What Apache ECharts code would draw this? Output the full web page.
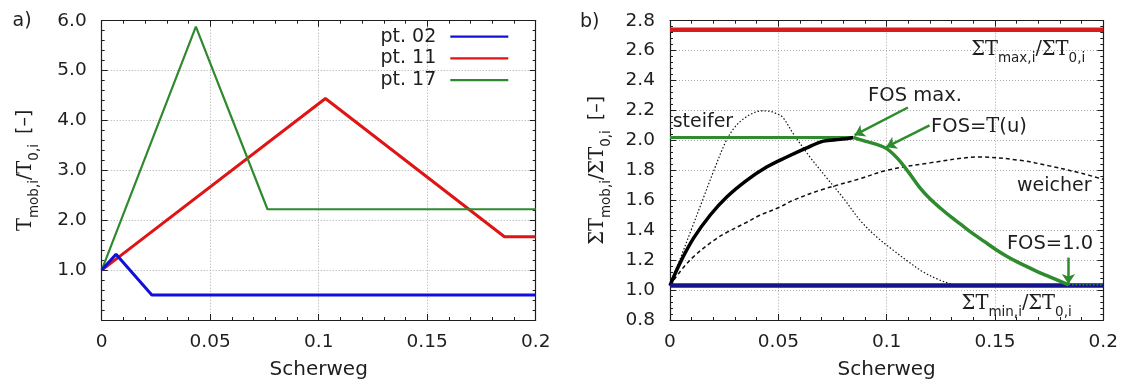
<!DOCTYPE html>
<html><head><meta charset="utf-8">
<script src="https://cdn.jsdelivr.net/npm/echarts@6/dist/echarts.min.js"></script>
<style>html,body{margin:0;padding:0;background:#fff}#c{width:1125px;height:388px}</style>
</head><body><div id="c"></div>
<script>
// ---------- data (left panel a) ----------
const pt02X = [0, 0.0066, 0.0231, 0.2];
const pt02Y = [1.0, 1.32, 0.5, 0.5];
const pt11X = [0, 0.1031, 0.1856, 0.2];
const pt11Y = [1.0, 4.44, 1.67, 1.67];
const pt17X = [0, 0.0434, 0.0764, 0.2];
const pt17Y = [1.0, 5.88, 2.22, 2.22];
const legendNames = ['pt. 02', 'pt. 11', 'pt. 17'];

// ---------- data (right panel b) ----------
const maxRatio = 2.74;
const minRatio = 1.03;
const fosMaxLevel = 2.02;
const fosMaxX = 0.0846;
const mobX = [0, 0.0046, 0.0108, 0.0185, 0.0262, 0.0354, 0.0446, 0.0539, 0.0631, 0.0708, 0.0785, 0.0846];
const mobY = [1.03, 1.18, 1.345, 1.50, 1.622, 1.733, 1.822, 1.889, 1.950, 1.995, 2.007, 2.02];
const fosX = [0.0846, 0.09, 0.095, 0.1, 0.105, 0.11, 0.115, 0.12, 0.125, 0.13, 0.135, 0.14, 0.145, 0.15, 0.155, 0.16, 0.165, 0.17, 0.175, 0.18, 0.184];
const fosY = [2.02, 1.995, 1.975, 1.945, 1.88, 1.79, 1.69, 1.61, 1.545, 1.485, 1.43, 1.375, 1.325, 1.275, 1.23, 1.19, 1.155, 1.12, 1.09, 1.06, 1.035];
const fosTailX = [0.184, 0.2];
const steifX = [0, 0.005, 0.01, 0.015, 0.02, 0.026, 0.03, 0.034, 0.038, 0.042, 0.046, 0.049, 0.052, 0.0569, 0.0646, 0.0723, 0.08, 0.0877, 0.0954, 0.103, 0.11, 0.117, 0.124, 0.13, 0.135];
const steifY = [1.03, 1.22, 1.41, 1.6, 1.79, 2.0, 2.09, 2.145, 2.18, 2.197, 2.195, 2.18, 2.155, 2.045, 1.889, 1.75, 1.615, 1.467, 1.355, 1.267, 1.19, 1.12, 1.07, 1.04, 1.03];
const weichX = [0, 0.005, 0.0108, 0.02, 0.0262, 0.035, 0.0415, 0.05, 0.0569, 0.0692, 0.0877, 0.1, 0.12, 0.143, 0.1615, 0.175, 0.19, 0.2];
const weichY = [1.03, 1.13, 1.222, 1.33, 1.385, 1.45, 1.5, 1.55, 1.6, 1.667, 1.744, 1.8, 1.85, 1.889, 1.867, 1.83, 1.78, 1.74];
// arrows: [x0, y0, x1, y1] (from -> to)
const arrows = [[0.1098, 2.22, 0.0852, 2.035], [0.1198, 2.10, 0.0998, 1.955], [0.1839, 1.217, 0.1839, 1.04]];
// annotation texts: [rich text, x, y, align]
const annoTexts = [
  ['{S|ΣT}{s|max,i}{n|/}{S|ΣT}{s|0,i}', 0.139, 2.607, 'left'],
  ['{S|ΣT}{s|min,i}{n|/}{S|ΣT}{s|0,i}', 0.1346, 0.91, 'left'],
  ['{n|steifer}', 0.0152, 2.12, 'center'],
  ['{n|weicher}', 0.1602, 1.69, 'left'],
  ['{g|FOS max.}', 0.1131, 2.30, 'center'],
  ['{g|FOS=}{gS|T}{g|(u)}', 0.1205, 2.087, 'left'],
  ['{g|FOS=1.0}', 0.1555, 1.305, 'left']
];

const zip = (xs, ys) => xs.map((x, i) => [x, ys[i]]);
const SANS = 'DejaVu Sans', SERIF = 'DejaVu Serif';
const INK = '#1e1e1e';
const GREEN = '#2e8b2e';
const GRIDC = '#a8a8a8';

const rich = {
  S: {fontFamily: SERIF, fontSize: 19.5, lineHeight: 20, verticalAlign: 'top', color: INK},
  s: {fontFamily: SANS, fontSize: 13.5, lineHeight: 14, padding: [12, 0, 0, 0], verticalAlign: 'top', color: INK},
  n: {fontFamily: SANS, fontSize: 19, lineHeight: 20, verticalAlign: 'top', color: INK},
  b: {fontFamily: SANS, fontSize: 19, lineHeight: 20, verticalAlign: 'top', color: INK, padding: [0, 0, 0, 4]},
  g: {fontFamily: SANS, fontSize: 19.5, lineHeight: 20, verticalAlign: 'top', color: GREEN},
  gS: {fontFamily: SERIF, fontSize: 19.5, lineHeight: 20, verticalAlign: 'top', color: GREEN}
};

const xFmt = v => String(Math.round(v * 1000) / 1000);
function mainX(gi, showName) {
  return {
    type: 'value', gridIndex: gi, min: 0, max: 0.2, interval: 0.05, position: 'bottom',
    name: showName ? 'Scherweg' : '', nameLocation: 'middle', nameGap: 40,
    nameTextStyle: {fontFamily: SANS, fontSize: 20, color: INK},
    axisLine: {show: true, onZero: false, lineStyle: {color: INK, width: 1.2}},
    axisTick: {show: true, inside: true, length: 6, lineStyle: {color: INK}},
    minorTick: {show: true, splitNumber: 5, length: 3, lineStyle: {color: INK}},
    axisLabel: {show: true, margin: 13, fontFamily: SANS, fontSize: 18.5, color: INK, formatter: xFmt},
    splitLine: {show: true, lineStyle: {color: GRIDC, type: [1, 2], width: 1}}
  };
}
function mirrorX(gi) {
  return {
    type: 'value', gridIndex: gi, min: 0, max: 0.2, interval: 0.05, position: 'top',
    axisLine: {show: true, onZero: false, lineStyle: {color: INK, width: 1.2}},
    axisTick: {show: true, inside: true, length: 6, lineStyle: {color: INK}},
    minorTick: {show: true, splitNumber: 5, length: 3, lineStyle: {color: INK}},
    axisLabel: {show: false}, splitLine: {show: false}
  };
}
function mainY(gi, min, max, interval, fmt, name, gap) {
  return {
    type: 'value', gridIndex: gi, min: min, max: max, interval: interval, position: 'left',
    name: name, nameLocation: 'middle', nameGap: gap, nameRotate: 90,
    nameTextStyle: {rich: rich, color: INK},
    axisLine: {show: true, onZero: false, lineStyle: {color: INK, width: 1.2}},
    axisTick: {show: true, inside: true, length: 6, lineStyle: {color: INK}},
    minorTick: {show: true, splitNumber: 5, length: 3, lineStyle: {color: INK}},
    axisLabel: {show: true, margin: 15, fontFamily: SANS, fontSize: 18.5, color: INK, formatter: fmt},
    splitLine: {show: true, lineStyle: {color: GRIDC, type: [1, 2], width: 1}}
  };
}
function mirrorY(gi, min, max, interval) {
  return {
    type: 'value', gridIndex: gi, min: min, max: max, interval: interval, position: 'right',
    axisLine: {show: true, onZero: false, lineStyle: {color: INK, width: 1.2}},
    axisTick: {show: true, inside: true, length: 6, lineStyle: {color: INK}},
    minorTick: {show: true, splitNumber: 5, length: 3, lineStyle: {color: INK}},
    axisLabel: {show: false}, splitLine: {show: false}
  };
}

function line(name, xi, yi, data, color, width, type, extra) {
  return Object.assign({
    name: name, type: 'line', xAxisIndex: xi, yAxisIndex: yi, data: data,
    symbol: 'none', showSymbol: false, silent: true,
    lineStyle: {color: color, width: width, type: type || 'solid'},
    itemStyle: {color: color}
  }, extra || {});
}
const SM = {smooth: 0.35};

const chart = echarts.init(document.getElementById('c'), null, {renderer: 'canvas'});
const option = {
  animation: false,
  backgroundColor: '#ffffff',
  grid: [
    {left: 101.7, top: 20.7, width: 434, height: 299.3},
    {left: 670, top: 20.7, width: 433.3, height: 299.3}
  ],
  xAxis: [mainX(0, true), mirrorX(0), mainX(1, true), mirrorX(1)],
  yAxis: [
    mainY(0, 0, 6, 1, v => (v === 0 ? '' : v.toFixed(1)), '{S|T}{s|mob,i}{n|/}{S|T}{s|0,i}{b| [–]}', 66),
    mirrorY(0, 0, 6, 1),
    mainY(1, 0.8, 2.8, 0.2, v => v.toFixed(1), '{S|ΣT}{s|mob,i}{n|/}{S|ΣT}{s|0,i}{b| [–]}', 62.5),
    mirrorY(1, 0.8, 2.8, 0.2)
  ],
  legend: {
    data: legendNames, orient: 'vertical', right: 616.7, top: 25.8, align: 'right',
    icon: 'rect', itemWidth: 58, itemHeight: 2.2, itemGap: 0, padding: 0, selectedMode: false,
    textStyle: {fontFamily: SANS, fontSize: 19, color: INK, lineHeight: 21.7, padding: [0, 9, 0, 0]}
  },
  series: [
    line('pt. 11', 0, 0, zip(pt11X, pt11Y), '#e01414', 3),
    line('pt. 17', 0, 0, zip(pt17X, pt17Y), '#2f8a2f', 2.2),
    line('pt. 02', 0, 0, zip(pt02X, pt02Y), '#1010d8', 3),
    line('max', 2, 2, zip([0, 0.2], [maxRatio, maxRatio]), '#d61c1c', 4.5),
    line('steifer', 2, 2, zip(steifX, steifY), '#111', 1.2, [1.5, 2], SM),
    line('weicher', 2, 2, zip(weichX, weichY), '#111', 1.5, [4, 3], SM),
    line('FOS max level', 2, 2, zip([0, fosMaxX], [fosMaxLevel, fosMaxLevel]), GREEN, 3),
    line('mobil', 2, 2, zip(mobX, mobY), '#000', 3.5, 'solid', SM),
    line('min', 2, 2, zip([0, 0.2], [minRatio, minRatio]), '#14148c', 4.5),
    line('FOS', 2, 2, zip(fosX, fosY), GREEN, 3.5, 'solid', SM),
    line('FOS tail', 2, 2, zip(fosTailX, [minRatio + 0.005, minRatio + 0.005]), GREEN, 1.5, [1.5, 2]),
    line('arrows', 2, 2, [], GREEN, 2.5, 'solid', {
      markLine: {
        silent: true, animation: false, symbol: ['none', 'arrow'], symbolSize: 10,
        label: {show: false}, emphasis: {disabled: true},
        lineStyle: {color: GREEN, width: 2.5, type: 'solid'},
        data: arrows.map(a => [{coord: [a[0], a[1]]}, {coord: [a[2], a[3]]}])
      }
    })
  ]
};
chart.setOption(option);

const graphics = [
  {type: 'text', x: 12.5, y: 21, style: {text: 'a)', fontFamily: SANS, fontSize: 19, fill: INK, verticalAlign: 'middle', align: 'left'}},
  {type: 'text', x: 580, y: 22, style: {text: 'b)', fontFamily: SANS, fontSize: 19, fill: INK, verticalAlign: 'middle', align: 'left'}}
];
annoTexts.forEach(t => {
  const p = chart.convertToPixel({gridIndex: 1}, [t[1], t[2]]);
  graphics.push({type: 'text', x: p[0], y: p[1] - 10, silent: true,
    style: {text: t[0], rich: rich, align: t[3], verticalAlign: 'top', fill: INK}});
});
chart.setOption({graphic: graphics});
</script></body></html>
